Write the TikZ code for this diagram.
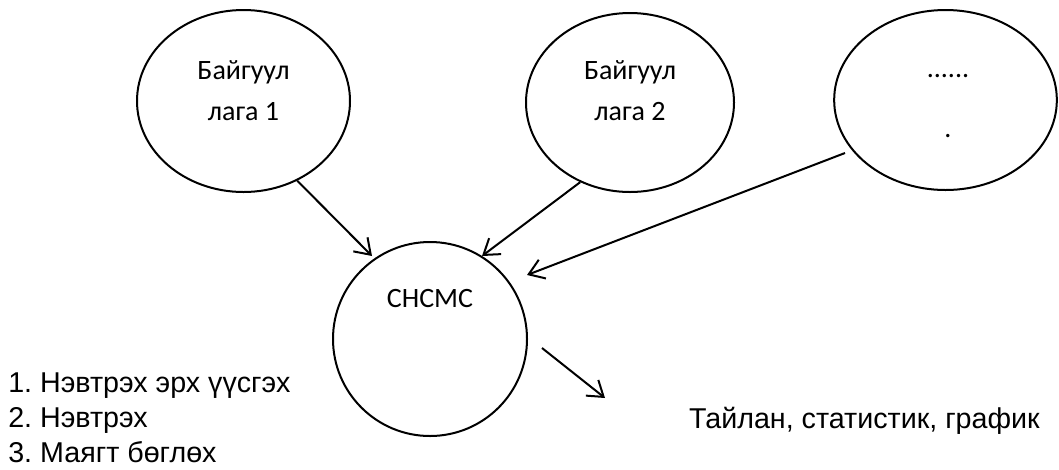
\documentclass[tikz,border=0pt]{standalone}
\usepackage{fontspec}
\setmainfont{Liberation Sans}
\newfontfamily\calib{Carlito}
\usetikzlibrary{shapes.geometric,arrows.meta}
\frenchspacing
\tikzset{
  blob/.style={draw, ellipse, line width=1.5pt, inner sep=0pt},
  ctext/.style={font=\calib\fontsize{21}{25}\selectfont, anchor=base, inner sep=0pt},
  arr/.style={line width=1.5pt, -{Straight Barb[length=11pt,width=15pt,line width=1.5pt]}},
  plain/.style={font=\fontsize{21.5}{26.25}\selectfont, inner sep=0pt}
}
\begin{document}
\begin{tikzpicture}[x=0.75pt,y=-0.75pt]
\useasboundingbox (0,0) rectangle (1059,469);
\node[blob, minimum width=159.75pt, minimum height=136.5pt] (e1) at (243.5,101) {};
\node[blob, minimum width=156pt, minimum height=134.25pt] (e2) at (630,102.5) {};
\node[blob, minimum width=167pt, minimum height=135pt] (e3) at (945.5,100) {};
\node[blob, circle, minimum size=145.5pt] (c) at (430,339) {};
\node[ctext] (t1a) at (243.5,79) {Байгуул};
\node[ctext] (t1b) at (243.5,120) {лага 1};
\node[ctext] (t2a) at (630,79) {Байгуул};
\node[ctext] (t2b) at (630,120) {лага 2};
\node[ctext] (t3a) at (948,77) {......};
\node[ctext] (t3b) at (948,137) {.};
\node[ctext] (tc) at (430,307) {CHCMC};
\coordinate (f1) at (372,256);
\coordinate (f2) at (482,256);
\coordinate (s3) at (845,153);
\coordinate (f3) at (527,275);
\coordinate (s4) at (542,348);
\coordinate (f4) at (605,398);
\draw[arr] (e1.-56.7) -- (f1);
\draw[arr] (e2.-122.2) -- (f2);
\draw[arr] (s3) -- (f3);
\draw[arr] (s4) -- (f4);
\node[plain, anchor=base west] (l1) at (8,392) {1. Нэвтрэх эрх үүсгэх};
\node[plain, anchor=base west] (l2) at (8,427) {2. Нэвтрэх};
\node[plain, anchor=base west] (l3) at (8,462) {3. Маягт бөглөх};
\node[plain, anchor=base east] (out) at (1040,428) {Тайлан, статистик, график};
\end{tikzpicture}
\end{document}
